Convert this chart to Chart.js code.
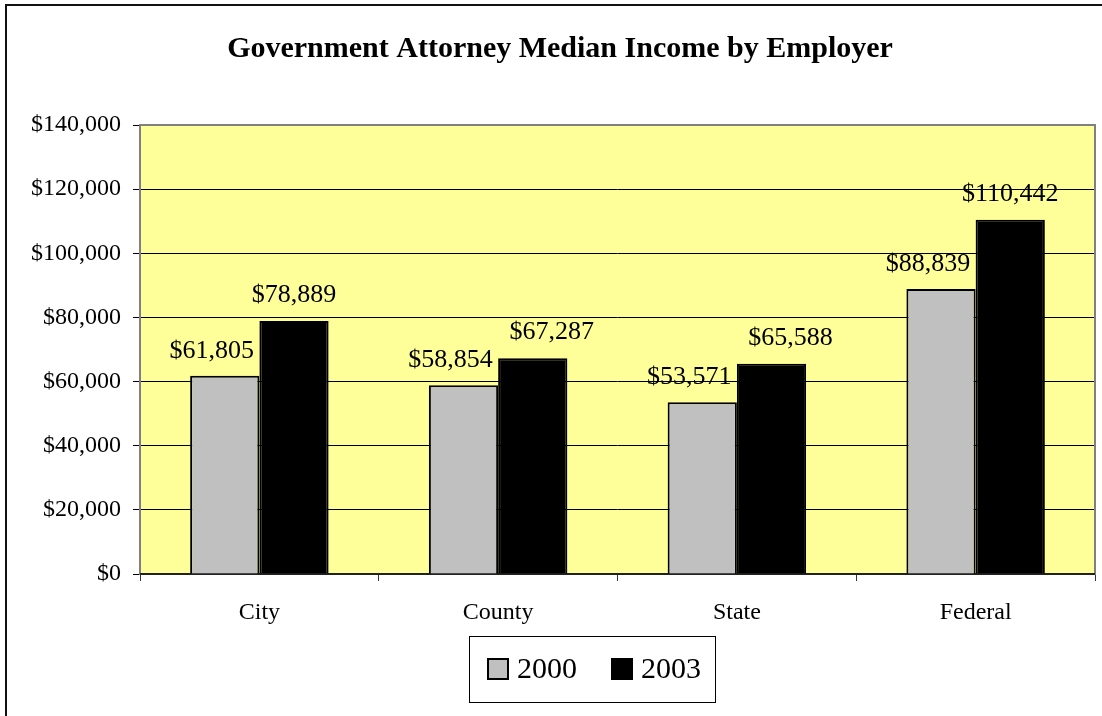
<!DOCTYPE html>
<html>
<head>
<meta charset="utf-8">
<script src="https://cdn.jsdelivr.net/npm/chart.js@4"></script>
<style>
  html, body { margin: 0; padding: 0; background: #fff; }
  canvas { display: block; }
</style>
</head>
<body>
<canvas id="incomeChart" width="1102" height="716"></canvas>
<script>
const employers = ['City', 'County', 'State', 'Federal'];
const years = ['2000', '2003'];
const income2000 = [61805, 58854, 53571, 88839];
const income2003 = [78889, 67287, 65588, 110442];
const yTicks = [0, 20000, 40000, 60000, 80000, 100000, 120000, 140000];
const barColors = ['#C0C0C0', '#000000'];

const serif = "'Liberation Serif', 'Times New Roman', serif";

function money(v) {
    return '$' + v.toLocaleString('en-US');
}

// yellow plot background + gray frame, like the old Excel chart
const plotFrame = {
    id: 'plotFrame',
    beforeDraw(chart) {
        const { ctx, chartArea: a } = chart;
        ctx.save();
        ctx.fillStyle = '#FFFF99';
        ctx.fillRect(a.left, a.top, a.right - a.left, a.bottom - a.top);
        ctx.restore();
    },
    beforeDatasetsDraw(chart) {
        const { ctx, chartArea: a } = chart;
        ctx.save();
        ctx.strokeStyle = '#808080';
        ctx.lineWidth = 2;
        ctx.strokeRect(a.left, a.top, a.right - a.left, a.bottom - a.top);
        ctx.beginPath();
        ctx.strokeStyle = '#222';
        ctx.moveTo(a.left, a.bottom);
        ctx.lineTo(a.right, a.bottom);
        ctx.stroke();
        ctx.restore();
    },
    afterDraw(chart) {
        const { ctx } = chart;
        ctx.save();
        // outer chart border (only left and top are visible)
        ctx.strokeStyle = '#111';
        ctx.lineWidth = 2;
        ctx.beginPath();
        ctx.moveTo(6, chart.height);
        ctx.lineTo(6, 5);
        ctx.lineTo(chart.width, 5);
        ctx.stroke();
        ctx.restore();
    }
};

// Excel-style boxed legend under the axis
const boxedLegend = {
    id: 'boxedLegend',
    afterDraw(chart) {
        const { ctx } = chart;
        const left = 469, top = 636, w = 246, h = 66;
        const mid = top + h / 2;
        ctx.save();
        ctx.strokeStyle = '#000';
        ctx.lineWidth = 1;
        ctx.strokeRect(left + 0.5, top + 0.5, w, h);
        ctx.font = '30px ' + serif;
        ctx.textBaseline = 'middle';
        ctx.textAlign = 'left';
        let x = left + 19;
        chart.data.datasets.forEach((ds, i) => {
            ctx.fillStyle = barColors[i];
            ctx.fillRect(x, mid - 10, 20, 20);
            ctx.strokeStyle = '#000';
            ctx.lineWidth = 2;
            ctx.strokeRect(x, mid - 10, 20, 20);
            ctx.fillStyle = '#000';
            ctx.fillText(ds.label, x + 29, mid + 1);
            x += 29 + ctx.measureText(ds.label).width + 35;
        });
        ctx.restore();
    }
};

// value labels above bars
const valueLabels = {
    id: 'valueLabels',
    afterDatasetsDraw(chart) {
        const { ctx } = chart;
        const grey = chart.getDatasetMeta(0).data;
        const black = chart.getDatasetMeta(1).data;
        ctx.save();
        ctx.font = '26px ' + serif;
        ctx.fillStyle = '#000';
        ctx.textAlign = 'center';
        ctx.textBaseline = 'alphabetic';
        grey.forEach((bar, i) => {
            ctx.fillText(money(income2000[i]), bar.x - 13, bar.y - 18);
            const other = black[i];
            const crowded = bar.y - other.y < 45;
            ctx.fillText(money(income2003[i]), other.x + (crowded ? 19 : 0), other.y - 19);
        });
        ctx.restore();
    }
};

new Chart(document.getElementById('incomeChart'), {
    type: 'bar',
    data: {
        labels: employers,
        datasets: [{
            label: years[0],
            data: income2000,
            backgroundColor: barColors[0],
            borderColor: '#000',
            borderWidth: 2,
            categoryPercentage: 0.58,
            barPercentage: 1.0
        }, {
            label: years[1],
            data: income2003,
            backgroundColor: barColors[1],
            borderColor: '#000',
            borderWidth: 2,
            categoryPercentage: 0.58,
            barPercentage: 1.0
        }]
    },
    options: {
        responsive: false,
        maintainAspectRatio: false,
        devicePixelRatio: 1,
        animation: false,
        layout: {
            padding: { left: 25, right: 7, top: 0, bottom: 76 }
        },
        scales: {
            x: {
                grid: {
                    offset: true,
                    drawOnChartArea: false,
                    drawTicks: true,
                    tickLength: 7,
                    color: '#333'
                },
                border: { display: false },
                ticks: {
                    color: '#000',
                    font: { family: serif, size: 24 },
                    padding: 17
                },
                afterFit(scale) { scale.height = 66; }
            },
            y: {
                min: 0,
                max: 140000,
                afterBuildTicks(scale) {
                    scale.ticks = yTicks.map(v => ({ value: v }));
                },
                grid: {
                    color: '#000',
                    lineWidth: 1,
                    tickLength: 7
                },
                border: { display: false },
                ticks: {
                    color: '#000',
                    font: { family: serif, size: 24 },
                    padding: 12,
                    callback: v => money(v)
                },
                afterFit(scale) { scale.width = 115; }
            }
        },
        plugins: {
            title: {
                display: true,
                text: 'Government Attorney Median Income by Employer',
                color: '#000',
                font: { family: serif, size: 30, weight: 'bold' },
                padding: { top: 31, bottom: 58 }
            },
            legend: { display: false },
            tooltip: { enabled: false }
        }
    },
    plugins: [plotFrame, valueLabels, boxedLegend]
});
</script>
</body>
</html>
